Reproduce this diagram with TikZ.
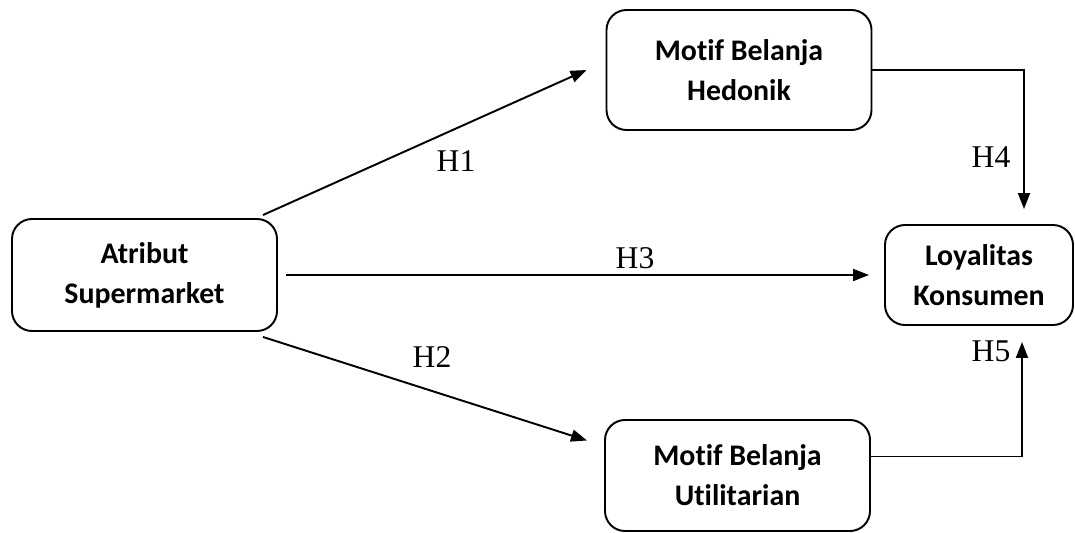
\documentclass[tikz,border=0pt]{standalone}
\usepackage{fontspec}
\setmainfont{Liberation Serif}
\newfontfamily\boxfont[Ligatures=NoCommon]{Carlito}
\usetikzlibrary{arrows.meta, positioning, calc}

\begin{document}
\begin{tikzpicture}[
    line width=1.1pt,
    varbox/.style={rectangle, draw=black, rounded corners=0.4cm, minimum width=5.3cm, minimum height=2.24cm,
                   align=center, font=\boxfont\bfseries\fontsize{17}{22.7}\selectfont},
    hlabel/.style={font=\fontsize{18}{20}\selectfont, inner sep=0pt},
    link/.style={-{Triangle[length=0.32cm, width=0.24cm]}}
]
    \useasboundingbox (0,0) rectangle (21.5,10.64);

    % Variables
    \node[varbox] (atribut) at (2.89,5.14) {Atribut\\Supermarket};
    \node[varbox, minimum height=2.4cm] (hedonik) at (14.78,9.24) {Motif Belanja\\Hedonik};
    \node[varbox, minimum width=3.76cm, minimum height=2.0cm] (loyal) at (19.58,5.14) {Loyalitas\\Konsumen};
    \node[varbox, minimum height=2.22cm] (utilitarian) at (14.75,1.13) {Motif Belanja\\Utilitarian};

    % Hypotheses
    \draw[link] ([xshift=-0.3cm,yshift=0.06cm]atribut.north east) -- ([xshift=-0.38cm]hedonik.west);
    \draw[link] ([xshift=-0.3cm,yshift=-0.1cm]atribut.south east) -- ([xshift=-0.34cm,yshift=0.7cm]utilitarian.west);
    \draw[link] ([xshift=0.16cm]atribut.east) -- ([xshift=-0.3cm]loyal.west);
    \draw[link] (hedonik.east) -| ([xshift=0.9cm,yshift=0.3cm]loyal.north);
    \draw[link] ([yshift=0.38cm]utilitarian.east) -| ([xshift=0.86cm,yshift=-0.32cm]loyal.south);

    % Labels
    \node[hlabel] (h1) at (9.12,7.42) {H1};
    \node[hlabel] (h2) at (8.64,3.5) {H2};
    \node[hlabel] (h3) at (12.7,5.48) {H3};
    \node[hlabel] (h4) at (19.82,7.5) {H4};
    \node[hlabel] (h5) at (19.82,3.62) {H5};
\end{tikzpicture}
\end{document}
